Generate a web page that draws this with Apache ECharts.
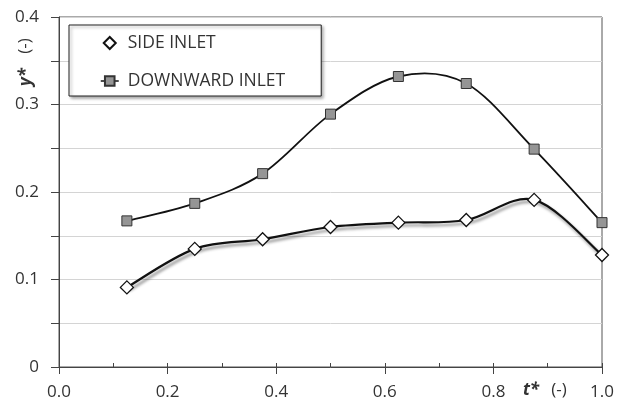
<!DOCTYPE html>
<html>
<head>
<meta charset="utf-8">
<script src="https://cdn.jsdelivr.net/npm/echarts@6/dist/echarts.min.js"></script>
<style>
  html, body { margin: 0; padding: 0; background: #fff; }
  #chart { width: 626px; height: 403px; }
</style>
</head>
<body>
<div id="chart"></div>
<script>
// Dimensionless time t* and height y* for the two inlet configurations
const tValues = [0.125, 0.25, 0.375, 0.5, 0.625, 0.75, 0.875, 1.0];
const sideInlet = [0.091, 0.135, 0.146, 0.160, 0.165, 0.168, 0.191, 0.128];
const downwardInlet = [0.167, 0.187, 0.221, 0.289, 0.332, 0.324, 0.249, 0.165];
const seriesNames = ['SIDE INLET', 'DOWNWARD INLET'];

const FONT = '"Open Sans", sans-serif';
const TXT = '#333';

function pairs(xs, ys) { return xs.map((x, i) => [x, ys[i]]); }

// Cardinal (Catmull-Rom style) spline through the points, in pixel space
function splinePath(api, xs, ys) {
  const p = xs.map((x, i) => api.coord([x, ys[i]]));
  const n = p.length;
  let d = 'M' + p[0][0] + ',' + p[0][1];
  for (let i = 0; i < n - 1; i++) {
    const p0 = p[i - 1] || p[i];
    const p1 = p[i];
    const p2 = p[i + 1];
    const p3 = p[i + 2] || p[i + 1];
    const c1x = p1[0] + (p2[0] - p0[0]) / 6;
    const c1y = p1[1] + (p2[1] - p0[1]) / 6;
    const c2x = p2[0] - (p3[0] - p1[0]) / 6;
    const c2y = p2[1] - (p3[1] - p1[1]) / 6;
    d += ' C' + c1x + ',' + c1y + ' ' + c2x + ',' + c2y + ' ' + p2[0] + ',' + p2[1];
  }
  return d;
}

function curveSeries(id, ys, lineStyle, z) {
  return {
    id: id,
    type: 'custom',
    coordinateSystem: 'cartesian2d',
    xAxisIndex: 0,
    data: pairs(tValues, ys),
    silent: true,
    z: z,
    renderItem: function (params, api) {
      if (params.dataIndex !== 0) return null;
      return {
        type: 'path',
        shape: { pathData: splinePath(api, tValues, ys) },
        style: Object.assign({ fill: null }, lineStyle)
      };
    }
  };
}

function titleText(x, y, text, italicBold, rotated) {
  return {
    type: 'text', x: x, y: y, rotation: rotated ? Math.PI / 2 : 0,
    style: {
      text: text,
      align: 'center', verticalAlign: 'middle',
      fontFamily: FONT, fontSize: 17,
      fontWeight: italicBold ? 'bold' : 'normal',
      fontStyle: italicBold ? 'italic' : 'normal',
      fill: TXT
    }
  };
}

const chart = echarts.init(document.getElementById('chart'), null, { renderer: 'canvas' });

chart.setOption({
  animation: false,
  backgroundColor: '#fff',
  grid: {
    left: 59, right: 24, top: 17, bottom: 36,
    show: true, borderColor: '#555', borderWidth: 1, backgroundColor: 'transparent'
  },
  xAxis: [
    {
      type: 'value', min: 0, max: 1, interval: 0.2,
      axisLine: { show: true, onZero: false, lineStyle: { color: '#444', width: 1 } },
      axisTick: { show: true, length: 7, lineStyle: { color: '#444' } },
      axisLabel: {
        margin: 17, color: TXT, fontFamily: FONT, fontSize: 17,
        formatter: v => v.toFixed(1)
      },
      splitLine: { show: false }
    },
    {
      // inner ticks every 0.1
      type: 'value', min: 0, max: 1, interval: 0.1, position: 'bottom',
      axisLine: { show: false },
      axisTick: { show: true, inside: true, length: 4, lineStyle: { color: '#444' } },
      axisLabel: { show: false },
      splitLine: { show: false }
    }
  ],
  yAxis: {
    type: 'value', min: 0, max: 0.4, interval: 0.05,
    axisLine: { show: true, onZero: false, lineStyle: { color: '#444', width: 1 } },
    axisTick: { show: true, length: 8, lineStyle: { color: '#444' } },
    axisLabel: {
      margin: 20, color: TXT, fontFamily: FONT, fontSize: 17,
      formatter: v => {
        const k = Math.round(v * 100);
        if (k % 10 !== 0) return '';
        return k === 0 ? '0' : (k / 100).toFixed(1);
      }
    },
    splitLine: { show: true, lineStyle: { color: '#d4d4d4', width: 1 } }
  },
  legend: {
    orient: 'vertical',
    left: 69, top: 25,
    padding: [9, 36, 6, 31],
    itemGap: 20,
    itemWidth: 18, itemHeight: 12,
    backgroundColor: '#fff',
    borderColor: '#222', borderWidth: 1,
    shadowColor: 'rgba(0,0,0,0.35)', shadowBlur: 3, shadowOffsetX: 2, shadowOffsetY: 2,
    textStyle: { color: TXT, fontFamily: FONT, fontSize: 17.5, padding: [0, 0, 0, 4] },
    data: [
      { name: seriesNames[0], icon: 'path://M0,5L5,0L10,5L5,10Z' },
      { name: seriesNames[1], lineStyle: { color: '#111', width: 1.5, opacity: 1 } }
    ]
  },
  series: [
    curveSeries('side-curve', sideInlet, {
      stroke: '#111', lineWidth: 2.2,
      shadowColor: 'rgba(0,0,0,0.45)', shadowBlur: 3, shadowOffsetX: 2, shadowOffsetY: 3
    }, 2),
    curveSeries('downward-curve', downwardInlet, { stroke: '#111', lineWidth: 1.8 }, 2),
    {
      name: seriesNames[0],
      type: 'line',
      xAxisIndex: 0,
      data: pairs(tValues, sideInlet),
      symbol: 'diamond', symbolSize: 13, symbolKeepAspect: true,
      itemStyle: { color: '#fff', borderColor: '#111', borderWidth: 1.3 },
      lineStyle: { opacity: 0 },
      z: 3
    },
    {
      name: seriesNames[1],
      type: 'line',
      xAxisIndex: 0,
      data: pairs(tValues, downwardInlet),
      symbol: 'rect', symbolSize: 10,
      itemStyle: { color: '#959595', borderColor: '#333', borderWidth: 1 },
      lineStyle: { opacity: 0 },
      z: 4
    }
  ],
  graphic: [
    titleText(26, 77, 'y*', true, true),
    titleText(25, 46, '(-)', false, true),
    titleText(531, 390, 't*', true, false),
    titleText(559, 390, '(-)', false, false)
  ]
});
</script>
</body>
</html>
